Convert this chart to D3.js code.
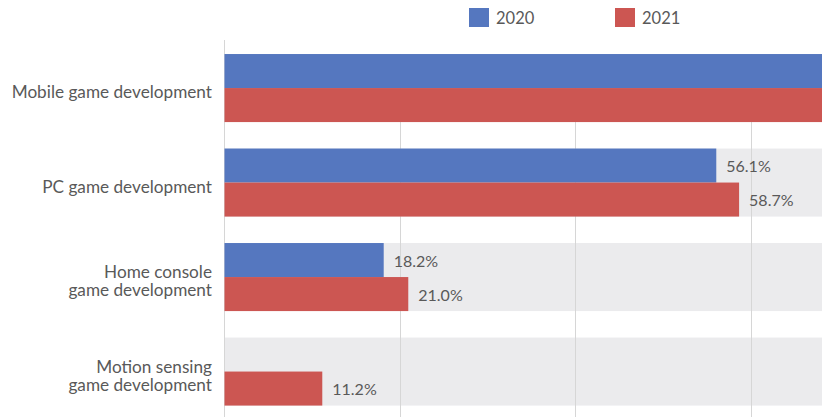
<!DOCTYPE html>
<html>
<head>
<meta charset="utf-8">
<script src="https://cdn.jsdelivr.net/npm/d3@7"></script>
<style>
  html, body { margin: 0; padding: 0; background: #fff; }
  svg { display: block; }
  text { font-family: Lato, "Open Sans", sans-serif; fill: #595959; }
</style>
</head>
<body>
<svg id="chart" width="822" height="417"></svg>
<script>
// Share of developers working on each game type, by year (%)
const categories = [
  ["Mobile game development"],
  ["PC game development"],
  ["Home console", "game development"],
  ["Motion sensing", "game development"]
];
const seriesNames = ["2020", "2021"];
const values2020 = [90.6, 56.1, 18.2, null];
const values2021 = [92.4, 58.7, 21.0, 11.2];
const gridTicks = [0, 20, 40, 60, 80, 100];

const colors = { "2020": "#5577BF", "2021": "#CC5652" };

const W = 822, H = 417;
const svg = d3.select("#chart");

const keys = categories.map(c => c.join(" "));
const series = { "2020": values2020, "2021": values2021 };

const x = d3.scaleLinear().domain([0, 100]).range([224, 224 + 877.5]);
const y = d3.scaleBand().domain(keys).range([40.8, 418.8]).paddingInner(0.28).paddingOuter(0.14);
const yInner = d3.scaleBand().domain(seriesNames).range([0, y.bandwidth()]);

// shaded background strip behind each category
svg.append("g").selectAll("rect").data(keys).join("rect")
  .attr("x", x(0)).attr("y", d => y(d))
  .attr("width", W - x(0)).attr("height", y.bandwidth())
  .attr("fill", "#EBEBED");

// vertical gridlines
svg.append("g").selectAll("line").data(gridTicks.filter(t => t > 0)).join("line")
  .attr("x1", d => Math.round(x(d)) + 0.5).attr("x2", d => Math.round(x(d)) + 0.5)
  .attr("y1", y(keys[0])).attr("y2", H)
  .attr("stroke", "#D6D6D6").attr("stroke-width", 1);

// value axis baseline
svg.append("line")
  .attr("x1", x(0) + 0.5).attr("x2", x(0) + 0.5)
  .attr("y1", 40).attr("y2", H)
  .attr("stroke", "#D6D6D6").attr("stroke-width", 1);

// bars
const rows = [];
keys.forEach((k, i) => seriesNames.forEach(s => {
  rows.push({ key: k, s, v: series[s][i] });
}));
const present = rows.filter(r => r.v != null);

svg.append("g").selectAll("rect").data(present).join("rect")
  .attr("x", x(0) + 0.5)
  .attr("y", d => y(d.key) + yInner(d.s))
  .attr("width", d => x(d.v) - x(0) - 0.5)
  .attr("height", yInner.bandwidth())
  .attr("fill", d => colors[d.s]);

// value labels (only those that land inside the visible plot)
svg.append("g").selectAll("text").data(present.filter(d => x(d.v) + 60 < W)).join("text")
  .attr("x", d => x(d.v) + 10)
  .attr("y", d => y(d.key) + yInner(d.s) + yInner.bandwidth() / 2 + 1)
  .attr("dy", "0.35em")
  .attr("font-size", 16)
  .text(d => d.v.toFixed(1) + "%");

// category labels
const yAxis = d3.axisLeft(y).tickSize(0).tickPadding(12).tickFormat("");
const ax = svg.append("g").attr("transform", `translate(${x(0)},0)`).call(yAxis);
ax.select(".domain").remove();
ax.selectAll(".tick").each(function (k, i) {
  const lines = categories[i];
  const lh = 18;
  const t = d3.select(this).append("text")
    .attr("text-anchor", "end")
    .attr("font-size", 17.2)
    .attr("x", -12);
  lines.forEach((ln, j) => {
    t.append("tspan")
      .attr("x", -12)
      .attr("y", (j - (lines.length - 1) / 2) * lh + 4)
      .attr("dy", "0.35em")
      .text(ln);
  });
});

// legend
const legend = svg.append("g");
const legendX = { "2020": 469, "2021": 615 };
seriesNames.forEach(s => {
  const g = legend.append("g").attr("transform", `translate(${legendX[s]},8)`);
  g.append("rect").attr("width", 20).attr("height", 19).attr("fill", colors[s]);
  g.append("text").attr("x", 27).attr("y", 10).attr("dy", "0.35em")
    .attr("font-size", 16.5).text(s);
});
</script>
</body>
</html>
